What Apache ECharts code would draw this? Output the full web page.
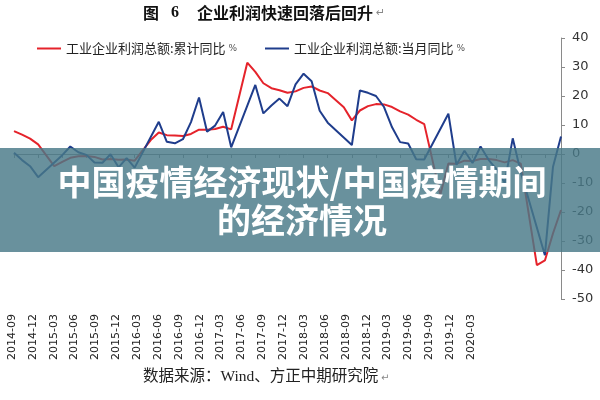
<!DOCTYPE html>
<html>
<head>
<meta charset="utf-8">
<script src="https://cdn.jsdelivr.net/npm/echarts@6/dist/echarts.min.js"></script>
<style>
html,body{margin:0;padding:0;background:#fff;}
#chart{width:600px;height:400px;}
</style>
</head>
<body>
<div id="chart"></div>
<script>
// Monthly categories (2014-09 .. 2020-05)
var months = [
 '2014-09','2014-10','2014-11','2014-12',
 '2015-01','2015-02','2015-03','2015-04','2015-05','2015-06','2015-07','2015-08','2015-09','2015-10','2015-11','2015-12',
 '2016-01','2016-02','2016-03','2016-04','2016-05','2016-06','2016-07','2016-08','2016-09','2016-10','2016-11','2016-12',
 '2017-01','2017-02','2017-03','2017-04','2017-05','2017-06','2017-07','2017-08','2017-09','2017-10','2017-11','2017-12',
 '2018-01','2018-02','2018-03','2018-04','2018-05','2018-06','2018-07','2018-08','2018-09','2018-10','2018-11','2018-12',
 '2019-01','2019-02','2019-03','2019-04','2019-05','2019-06','2019-07','2019-08','2019-09','2019-10','2019-11','2019-12',
 '2020-01','2020-02','2020-03','2020-04','2020-05'
];
// 工业企业利润总额:累计同比 %
var cumulativeYoY = [
 7.9, 6.7, 5.3, 3.3,
 null, -4.2, -2.7, -1.3, -0.8, -0.7, -1.0, -1.9, -1.7, -2.0, -1.9, -2.3,
 null, 4.8, 7.4, 6.5, 6.4, 6.2, 6.9, 8.4, 8.4, 8.6, 9.4, 8.5,
 null, 31.5, 28.3, 24.4, 22.7, 22.0, 21.1, 21.6, 22.8, 23.3, 21.9, 21.0,
 null, 16.1, 11.6, 15.0, 16.5, 17.2, 17.1, 16.2, 14.7, 13.6, 11.8, 10.3,
 null, -14.0, -3.3, -3.4, -2.3, -2.4, -1.7, -1.7, -2.1, -2.9, -2.1, -3.3,
 null, -38.3, -36.7, -27.4, -19.3
];
// 工业企业利润总额:当月同比 %
var monthlyYoY = [
 0.4, -2.1, -4.2, -8.0,
 null, null, -0.4, 2.6, 0.6, -0.3, -2.9, -3.0, -0.1, -4.6, -1.4, -4.7,
 null, null, 11.1, 4.2, 3.7, 5.1, 11.0, 19.5, 7.7, 9.8, 14.5, 2.3,
 null, null, 23.8, 14.0, 16.7, 19.1, 16.5, 24.0, 27.7, 25.1, 14.9, 10.8,
 null, null, 3.1, 21.9, 21.1, 20.0, 16.2, 9.2, 4.1, 3.6, -1.8, -1.9,
 null, null, 13.9, -3.7, 1.1, -3.1, 2.6, -2.0, -5.3, -9.9, 5.4, -6.3,
 null, null, -34.9, -4.5, 6.0
];
// Bottom (rotated) tick labels
var tickLabels = [
 '2014-09','2014-12','2015-03','2015-06','2015-09','2015-12','2016-03','2016-06','2016-09','2016-12',
 '2017-03','2017-06','2017-09','2017-12','2018-03','2018-06','2018-09','2018-12','2019-03','2019-06',
 '2019-09','2019-12','2020-03'
];
var yTicks = {min: -50, max: 40, interval: 10};
var seriesNames = ['工业企业利润总额:累计同比 %', '工业企业利润总额:当月同比 %'];
var titleText = '企业利润快速回落后回升';
var overlayLine1 = '中国疫情经济现状/中国疫情期间';
var overlayLine2 = '的经济情况';
var sourceText = '数据来源：Wind、方正中期研究院';

var RED = '#e5232b', BLUE = '#1f3d8c';
var cjk = '"Noto Sans CJK SC", sans-serif';

var chart = echarts.init(document.getElementById('chart'), null, {renderer: 'canvas'});
function legendFmt(n){ return '{a|' + n.replace(' %','') + '} {p|%}'; }
var legendText = {
  color: '#222', fontSize: 13, fontFamily: cjk,
  rich: {a: {fontSize: 13, fontFamily: cjk, color: '#222'}, p: {fontSize: 9, fontFamily: 'DejaVu Sans', color: '#555'}}
};
chart.setOption({
  animation: false,
  backgroundColor: '#fff',
  legend: [
    {data: [seriesNames[0]], left: 32, top: 37, itemWidth: 24, itemHeight: 2, icon: 'rect', itemGap: 5,
     formatter: legendFmt, textStyle: legendText},
    {data: [seriesNames[1]], left: 260, top: 37, itemWidth: 24, itemHeight: 2, icon: 'rect', itemGap: 5,
     formatter: legendFmt, textStyle: legendText}
  ],
  grid: [
    {left: 14, right: 39, top: 38, bottom: 101},
    {left: 12, right: 129, top: 300, bottom: 90}
  ],
  xAxis: [
    {type: 'category', gridIndex: 0, data: months, boundaryGap: false,
     axisLine: {onZero: true, lineStyle: {color: '#8a8a8a', width: 1}},
     axisTick: {show: true, interval: 2, length: 4, lineStyle: {color: '#8a8a8a'}},
     axisLabel: {show: false}, splitLine: {show: false}},
    {type: 'category', gridIndex: 1, data: tickLabels, boundaryGap: false,
     axisLine: {show: false}, axisTick: {show: false},
     axisLabel: {show: true, interval: 0, rotate: 90, margin: 4, fontSize: 11, color: '#222', fontFamily: 'DejaVu Sans'}}
  ],
  yAxis: [
    {type: 'value', gridIndex: 0, position: 'right', min: yTicks.min, max: yTicks.max, interval: yTicks.interval,
     axisLine: {show: true, lineStyle: {color: '#8a8a8a'}},
     axisTick: {show: true, length: 4, lineStyle: {color: '#8a8a8a'}},
     axisLabel: {margin: 11, fontSize: 13, color: '#333', fontFamily: 'DejaVu Sans'},
     splitLine: {show: false}},
    {type: 'value', gridIndex: 1, show: false}
  ],
  series: [
    {name: seriesNames[0], type: 'line', xAxisIndex: 0, yAxisIndex: 0, data: cumulativeYoY,
     connectNulls: true, showSymbol: false, symbol: 'none', color: RED,
     lineStyle: {color: RED, width: 2}, z: 3},
    {name: seriesNames[1], type: 'line', xAxisIndex: 0, yAxisIndex: 0, data: monthlyYoY,
     connectNulls: true, showSymbol: false, symbol: 'none', color: BLUE,
     lineStyle: {color: BLUE, width: 2}, z: 4}
  ],
  graphic: [
    {type: 'text', left: 143, top: 5, z: 100, style: {text: '图', font: 'bold 16px ' + cjk, fill: '#111'}},
    {type: 'text', left: 171, top: 5, z: 100, style: {text: '6', font: 'bold 16px "Liberation Serif", serif', fill: '#111'}},
    {type: 'text', left: 197, top: 5, z: 100, style: {text: titleText, font: 'bold 16px ' + cjk, fill: '#111'}},
    {type: 'text', left: 376, top: 8, z: 100, style: {text: '↵', font: '11px "DejaVu Sans"', fill: '#888'}},
    {type: 'rect', z: 100, shape: {x: 0, y: 148, width: 600, height: 104}, style: {fill: 'rgba(72,121,136,0.82)'}},
    {type: 'text', z: 101, x: 302, y: 182, style: {text: overlayLine1, font: 'bold 34px ' + cjk, fill: '#fff', textAlign: 'center', textVerticalAlign: 'middle'}},
    {type: 'text', z: 101, x: 302, y: 220, style: {text: overlayLine2, font: 'bold 34px ' + cjk, fill: '#fff', textAlign: 'center', textVerticalAlign: 'middle'}},
    {type: 'text', z: 100, left: 143, top: 369, style: {text: sourceText, font: '15.5px "Liberation Serif", ' + cjk, fill: '#222'}},
    {type: 'text', z: 100, left: 381, top: 373, style: {text: '↵', font: '10px "DejaVu Sans"', fill: '#888'}}
  ]
});
</script>
</body>
</html>
